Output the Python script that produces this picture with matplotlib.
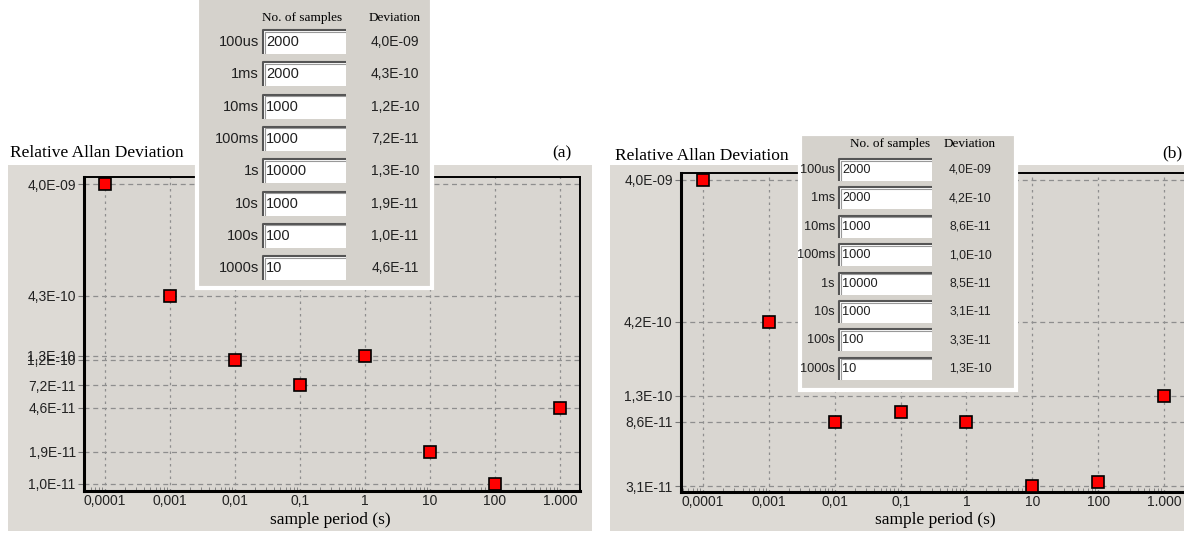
import matplotlib
matplotlib.use("Agg")
import matplotlib.pyplot as plt
from matplotlib.patches import Rectangle
from matplotlib.ticker import FixedLocator, NullFormatter, LogLocator

# sample periods and results
periods = [1e-4, 1e-3, 1e-2, 1e-1, 1, 10, 100, 1000]
period_names = ["100us", "1ms", "10ms", "100ms", "1s", "10s", "100s", "1000s"]
x_labels = ["0,0001", "0,001", "0,01", "0,1", "1", "10", "100", "1.000"]
samples = [2000, 2000, 1000, 1000, 10000, 1000, 100, 10]

dev_a = [4.0e-9, 4.3e-10, 1.2e-10, 7.2e-11, 1.3e-10, 1.9e-11, 1.0e-11, 4.6e-11]
dev_b = [4.0e-9, 4.2e-10, 8.6e-11, 1.0e-10, 8.5e-11, 3.1e-11, 3.3e-11, 1.3e-10]

# y ticks the program showed (it drops some labels in panel b)
yticks_a = [4.0e-9, 4.3e-10, 1.2e-10, 1.3e-10, 7.2e-11, 4.6e-11, 1.9e-11, 1.0e-11]
yticks_b = [4.0e-9, 4.2e-10, 1.3e-10, 8.6e-11, 3.1e-11]

W, H = 1184, 539
OUTER = "#dddad5"
PLOTBG = "#d9d6d1"
TABLE = "#d5d2cc"
GRID = "#8e8e8e"


def fmt(v):
    return f"{v:.1E}".replace(".", ",")


def px_axes(left, top, right, bottom):
    return [left / W, 1 - bottom / H, (right - left) / W, (bottom - top) / H]


fig = plt.figure(figsize=(W / 100, H / 100), dpi=100)
fig.patch.set_facecolor("white")

bg = fig.add_axes([0, 0, 1, 1], zorder=0)
bg.set_xlim(0, W)
bg.set_ylim(H, 0)
bg.axis("off")

fg = fig.add_axes([0, 0, 1, 1], zorder=5)
fg.set_xlim(0, W)
fg.set_ylim(H, 0)
fg.axis("off")
fg.patch.set_alpha(0)

serif = ["Liberation Serif", "DejaVu Serif"]
sans = ["Liberation Sans", "DejaVu Sans"]


def panel(box, outer, xlim, ylim, dev, yticks, tag, title_xy, tag_xy, xlabel_x):
    bg.add_patch(Rectangle((outer[0], outer[1]), outer[2] - outer[0], outer[3] - outer[1],
                           facecolor=OUTER, edgecolor="none"))
    bg.text(title_xy[0], title_xy[1], "Relative Allan Deviation", family=serif,
            fontsize=12.5, va="center", ha="left")
    bg.text(tag_xy[0], tag_xy[1], tag, family=serif, fontsize=12.5, va="center", ha="center")

    ax = fig.add_axes(px_axes(*box), zorder=2)
    ax.set_facecolor(PLOTBG)
    ax.set_xscale("log")
    ax.set_yscale("log")
    ax.set_xlim(*xlim)
    ax.set_ylim(*ylim)
    ax.plot(periods, dev, ls="none", marker="s", ms=9, mfc="#ff0000", mec="black",
            mew=1.2, zorder=4, clip_on=False)

    ax.xaxis.set_major_locator(FixedLocator(periods))
    ax.set_xticklabels(x_labels, family=sans, fontsize=10, color="#222222")
    ax.xaxis.set_minor_locator(LogLocator(base=10, subs=range(2, 10), numticks=20))
    ax.xaxis.set_minor_formatter(NullFormatter())
    ax.yaxis.set_major_locator(FixedLocator(yticks))
    ax.set_yticklabels([fmt(v) for v in yticks], family=sans, fontsize=10, color="#222222")
    ax.yaxis.set_minor_locator(FixedLocator([]))

    ax.tick_params(axis="x", which="major", direction="in", length=0, pad=2)
    ax.tick_params(axis="x", which="minor", direction="in", length=3, color="#777777")
    ax.tick_params(axis="y", which="major", direction="out", length=4, color="#777777", pad=2)

    for x in periods:
        ax.axvline(x, color=GRID, lw=0.9, ls=(0, (2, 3)), zorder=1)
    for y in yticks:
        ax.axhline(y, color=GRID, lw=0.9, ls=(0, (4, 3)), zorder=1)

    for side in ["left", "bottom"]:
        ax.spines[side].set_linewidth(2.2)
    for side in ["top", "right"]:
        ax.spines[side].set_linewidth(1.4)

    bg.text(xlabel_x, 520, "sample period (s)", family=serif, fontsize=12.5,
            ha="center", va="center")
    return ax


def table(left, top, right, bottom, header_y, row_y, label_r, box_l, box_r, box_h, dev_cx, dev,
          samp_l, fs):
    fg.add_patch(Rectangle((left, top), right - left, bottom - top, facecolor=TABLE,
                           edgecolor="white", lw=3))
    fg.text(samp_l, header_y, "No. of samples", family=serif, fontsize=9.5,
            ha="left", va="center")
    fg.text(dev_cx, header_y, "Deviation", family=serif, fontsize=9.5,
            ha="center", va="center")
    for i, name in enumerate(period_names):
        y = row_y[i]
        fg.text(label_r, y, name, family=sans, fontsize=fs, ha="right", va="center",
                color="#202020")
        fg.add_patch(Rectangle((box_l, y - box_h / 2), box_r - box_l, box_h,
                               facecolor="white", edgecolor="none"))
        fg.plot([box_l, box_l, box_r], [y + box_h / 2, y - box_h / 2, y - box_h / 2],
                color="#555555", lw=1.5, solid_capstyle="butt")
        fg.plot([box_l + 1.5, box_l + 1.5, box_r - 1], [y + box_h / 2 - 1, y - box_h / 2 + 1.5,
                y - box_h / 2 + 1.5], color="#999999", lw=0.8)
        fg.text(box_l + 3, y, str(samples[i]), family=sans, fontsize=fs, ha="left",
                va="center", color="#202020")
        fg.text(dev_cx, y, fmt(dev[i]), family=sans, fontsize=fs - 0.5, ha="center",
                va="center", color="#202020")


panel((84, 177, 580, 491), (8, 165, 592, 531), (10 ** -4.323, 10 ** 3.308),
      (10 ** -11.061, 10 ** -8.337), dev_a, yticks_a, "(a)", (10, 153), (562, 153), 330)
panel((681, 173, 1186, 492), (610, 165, 1190, 531), (10 ** -4.335, 10 ** 3.335),
      (10 ** -10.55, 10 ** -8.35), dev_b, yticks_b, "(b)", (615, 156), (1172, 153), 935)

rows_a = [42 + 32.3 * i for i in range(8)]
table(197, -5, 432, 288, 18, rows_a, 259, 263, 346, 24, 395, dev_a, 262, 10.5)
rows_b = [170 + 28.4 * i for i in range(8)]
table(800, 134, 1016, 390, 144, rows_b, 835, 839, 932, 22, 970, dev_b, 850, 9.2)

fig.savefig("out.png", dpi=100, facecolor="white")
